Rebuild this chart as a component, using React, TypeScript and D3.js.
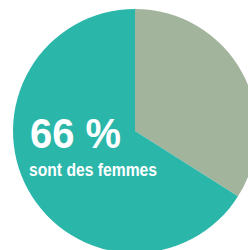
import React, { useRef, useEffect } from "react";
import * as d3 from "d3";

// parts du total (hommes d'abord, dans le sens horaire depuis midi)
const categories = ["hommes", "femmes"];
const values = [34, 66];
const sliceColors = ["#a2b49b", "#2bb6aa"];
const bigLabel = "66 %";
const subLabel = "sont des femmes";

const App = () => {
  const svgRef = useRef<SVGSVGElement>(null);

  useEffect(() => {
    const width = 248;
    const height = 250;
    const cx = 135;
    const cy = 131;
    const radius = 122;

    d3.select(svgRef.current).selectAll("*").remove();

    const svg = d3
      .select(svgRef.current)
      .attr("width", width)
      .attr("height", height);

    const g = svg.append("g").attr("transform", `translate(${cx}, ${cy})`);

    const data = categories.map((c, i) => ({ cat: c, value: values[i] }));

    const color = d3.scaleOrdinal<string, string>().domain(categories).range(sliceColors);

    const pie = d3
      .pie<{ cat: string; value: number }>()
      .sort(null)
      .value((d) => d.value);

    const arc = d3
      .arc<d3.PieArcDatum<{ cat: string; value: number }>>()
      .innerRadius(0)
      .outerRadius(radius);

    g.selectAll("path")
      .data(pie(data))
      .enter()
      .append("path")
      .attr("d", arc)
      .attr("fill", (d) => color(d.data.cat));

    const font = "'Liberation Sans Narrow', 'Liberation Sans', Arial, sans-serif";

    svg
      .append("text")
      .attr("x", 30)
      .attr("y", 148)
      .attr("fill", "#fff")
      .attr("font-family", font)
      .attr("font-weight", "bold")
      .attr("font-size", 42)
      .attr("textLength", 91)
      .attr("lengthAdjust", "spacingAndGlyphs")
      .text(bigLabel);

    svg
      .append("text")
      .attr("x", 29)
      .attr("y", 176)
      .attr("fill", "#fff")
      .attr("font-family", font)
      .attr("font-weight", "bold")
      .attr("font-size", 18)
      .attr("textLength", 128)
      .attr("lengthAdjust", "spacingAndGlyphs")
      .text(subLabel);
  }, []);

  return (
    <div style={{ position: "absolute", left: 0, top: 0, width: 248, height: 250, background: "#fff" }}>
      <svg ref={svgRef} style={{ display: "block" }}></svg>
    </div>
  );
};

export default App;
